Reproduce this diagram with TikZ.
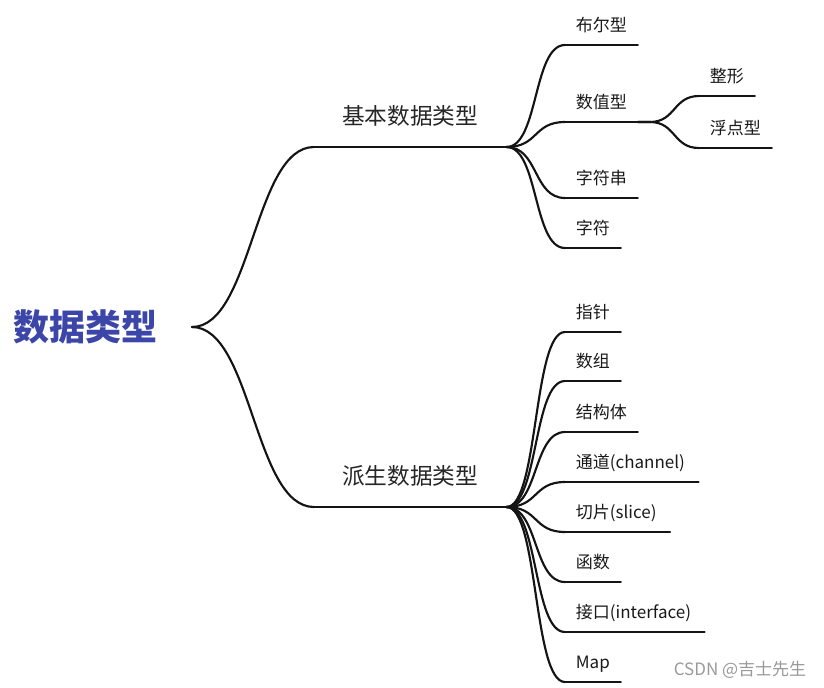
\documentclass[tikz,border=0pt]{standalone}
\usepackage{fontspec}
\usepackage{tikz}
\newfontfamily\cjk{Noto Sans CJK SC}
\definecolor{rootblue}{HTML}{3C46A8}
\definecolor{inkline}{HTML}{141414}

\begin{document}
\begin{tikzpicture}[x=0.75pt, y=-0.75pt,
            rootnode/.style={font=\cjk\fontsize{27}{30}\selectfont\bfseries, text=rootblue,
                text height=23.8pt, text depth=3.2pt, inner xsep=26pt}, % Main topic
            topic/.style={font=\cjk\fontsize{17}{20}\selectfont, text=black!85, anchor=south west,
                text height=15pt, text depth=2pt, inner xsep=21pt, inner ysep=14.75pt}, % Second level
            leaf/.style={font=\cjk\fontsize{12.75}{15}\selectfont, text=black!90, anchor=south west,
                text height=11.2pt, text depth=1.5pt, inner xsep=8pt, inner ysep=8.25pt}, % Third level
            branch/.style={draw=inkline, line width=1.6pt, line cap=round} % Connector lines
            ]
    \useasboundingbox (0,0) rectangle (824,687);

    % Root and the two main topics
    \node[rootnode] (root) at (85,327) {数据类型};
    \node[topic] (basic) at (314,147) {基本数据类型};
    \node[topic] (derived) at (314,507) {派生数据类型};

    % Basic types
    \node[leaf] (bool) at (565,45) {布尔型};
    \node[leaf] (num) at (565,122) {数值型};
    \node[leaf] (str) at (565,198) {字符串};
    \node[leaf] (chr) at (565,248) {字符};
    \node[leaf] (int) at (699,96) {整形};
    \node[leaf] (float) at (699,148) {浮点型};

    % Derived types
    \node[leaf] (ptr) at (565,332) {指针};
    \node[leaf] (arr) at (565,381) {数组};
    \node[leaf] (struct) at (565,432) {结构体};
    \node[leaf, inner xsep=10pt] (chan) at (565,482) {\hspace{-2pt}通道(channel)};
    \node[leaf, inner xsep=10pt] (slice) at (565,532) {\hspace{-2pt}切片(slice)};
    \node[leaf] (func) at (565,582) {函数};
    \node[leaf, inner xsep=10pt] (iface) at (565,632) {\hspace{-2pt}接口(interface)};
    \node[leaf] (map) at (565,682) {Map};

    % Underlines
    \foreach \n in {basic,derived,bool,num,str,chr,int,float,ptr,arr,struct,chan,slice,func,iface,map}
        \draw[branch] (\n.south west) -- (\n.south east);

    % Connectors
    \foreach \n in {basic,derived}
        \draw[branch] (root.east) .. controls +(60,0) and +(-60,0) .. (\n.south west);
    \foreach \n in {bool,num,str,chr}
        \draw[branch] (basic.south east) .. controls +(32,0) and +(-32,0) .. (\n.south west);
    \foreach \n in {int,float}
        \draw[branch] (num.south east) -- ++(12,0) .. controls +(26,0) and +(-26,0) .. (\n.south west);
    \foreach \n in {ptr,arr,struct,chan,slice,func,iface,map}
        \draw[branch] (derived.south east) .. controls +(32,0) and +(-32,0) .. (\n.south west);

    % Watermark
    \node[font=\cjk\fontsize{12.75}{15}\selectfont, text=black!40] (mark) at (740,670) {CSDN @吉士先生};

\end{tikzpicture}
\end{document}
